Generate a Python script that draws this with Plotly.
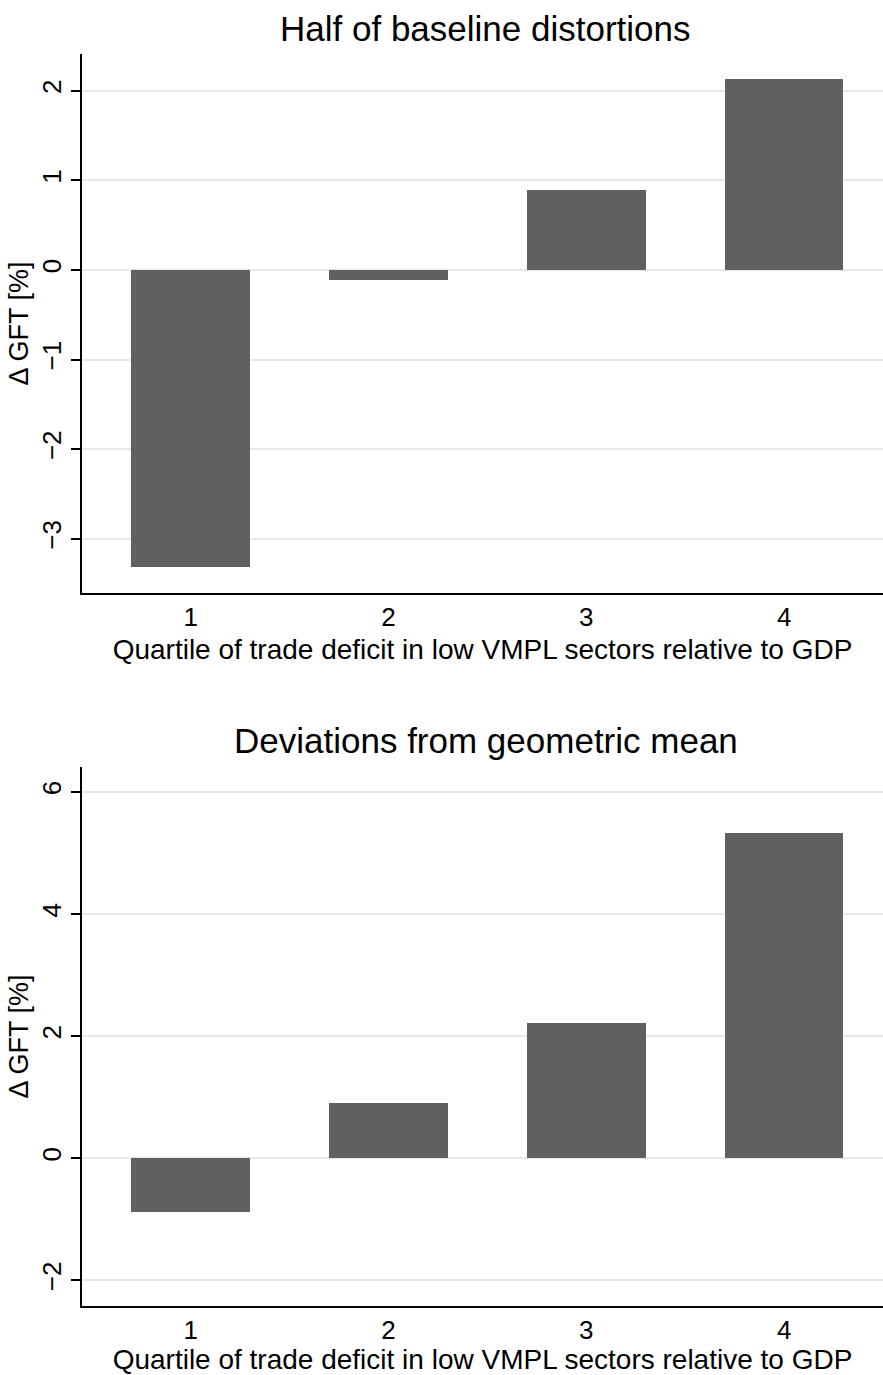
import plotly.graph_objects as go
from plotly.subplots import make_subplots

# Quartile bins on the x axis
quartiles = [1, 2, 3, 4]
quartile_ticks = ["1", "2", "3", "4"]

# Change in gains from trade (%) per quartile
half_baseline = [-3.32, -0.11, 0.89, 2.13]
geo_mean_dev = [-0.885, 0.905, 2.22, 5.33]

panel_titles = ["Half of baseline distortions", "Deviations from geometric mean"]
x_title = "Quartile of trade deficit in low VMPL sectors relative to GDP"
y_title = "\u0394 GFT [%]"

FONT = "Liberation Sans, Arial, Helvetica, sans-serif"
BAR_COLOR = "#606060"
GRID_COLOR = "#e8e8e8"

W, H = 883, 1375
M_L, M_R, M_T, M_B = 82, 0, 54, 69
plot_h = H - M_T - M_B


def py(p):
    """Pixel row -> paper fraction."""
    return (H - M_B - p) / plot_h


fig = make_subplots(rows=2, cols=1, vertical_spacing=0.1)

for i, vals in enumerate([half_baseline, geo_mean_dev], start=1):
    fig.add_trace(
        go.Bar(x=quartiles, y=vals, width=0.6,
               marker=dict(color=BAR_COLOR, line=dict(width=0)),
               showlegend=False, hoverinfo="x+y"),
        row=i, col=1,
    )

axis_common = dict(
    showline=True, linecolor="black", linewidth=1.5,
    tickfont=dict(family=FONT, size=26, color="black"),
)

# top panel
fig.update_layout(
    xaxis=dict(domain=[0, 1], range=[0.45, 4.5], tickvals=quartiles,
               ticktext=quartile_ticks, ticks="", showgrid=False,
               zeroline=False, anchor="y",
               title=dict(text=x_title, standoff=8,
                          font=dict(family=FONT, size=28, color="black")),
               **axis_common),
    yaxis=dict(domain=[py(593), 1], range=[-3.605, 2.41],
               tickvals=[-3, -2, -1, 0, 1, 2], tickangle=-90,
               ticks="outside", ticklen=9, tickwidth=1.5, tickcolor="black",
               showgrid=True, gridcolor=GRID_COLOR, gridwidth=1.5,
               zeroline=False, anchor="x",
               title=dict(text=y_title, standoff=0,
                          font=dict(family=FONT, size=27, color="black")),
               **axis_common),
    xaxis2=dict(domain=[0, 1], range=[0.45, 4.5], tickvals=quartiles,
                ticktext=quartile_ticks, ticks="", showgrid=False,
                zeroline=False, anchor="y2",
                title=dict(text=x_title, standoff=8,
                           font=dict(family=FONT, size=28, color="black")),
                **axis_common),
    yaxis2=dict(domain=[0, py(767)], range=[-2.42, 6.41],
                tickvals=[-2, 0, 2, 4, 6], tickangle=-90,
                ticks="outside", ticklen=9, tickwidth=1.5, tickcolor="black",
                showgrid=True, gridcolor=GRID_COLOR, gridwidth=1.5,
                zeroline=False, anchor="x2",
                title=dict(text=y_title, standoff=0,
                           font=dict(family=FONT, size=27, color="black")),
                **axis_common),
)

# panel titles
for txt, ypix in zip(panel_titles, [28, 740]):
    fig.add_annotation(text=txt, xref="paper", yref="paper",
                       x=0.504, y=py(ypix), xanchor="center", yanchor="middle",
                       showarrow=False,
                       font=dict(family=FONT, size=35, color="black"))

fig.update_layout(
    width=W, height=H,
    margin=dict(l=M_L, r=M_R, t=M_T, b=M_B),
    paper_bgcolor="white", plot_bgcolor="white",
    bargap=0,
)

fig.write_html("out.html")
